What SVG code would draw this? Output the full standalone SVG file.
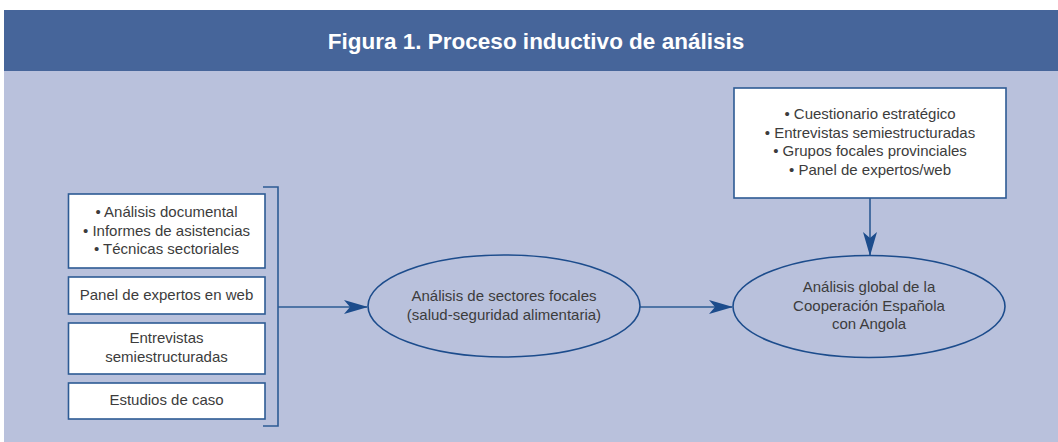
<svg xmlns="http://www.w3.org/2000/svg" width="1058" height="442" viewBox="0 0 1058 442">
<defs>
<style>
.t{font-family:"Liberation Sans",Arial,sans-serif;font-size:15px;fill:#3c3c3c;text-anchor:middle}
.box{fill:#ffffff;stroke:#2d5b94;stroke-width:1.6}
.ell{fill:none;stroke:#1c4c8c;stroke-width:1.6}
.ln{fill:none;stroke:#2d5b94;stroke-width:1.6}
</style>
<marker id="ah" markerWidth="24" markerHeight="14" viewBox="0 0 24 14" refX="23" refY="7" orient="auto" markerUnits="userSpaceOnUse">
<path d="M0,0 L24,7 L0,14 L6,7 Z" fill="#1c4c8c"/>
</marker>
</defs>
<rect x="0" y="0" width="1058" height="442" fill="#ffffff"/>
<rect x="4" y="71" width="1054" height="371" fill="#b9c1dc"/>
<rect x="4" y="10" width="1054" height="61" fill="#46659a"/>
<text x="536" y="49" style="font-family:'Liberation Sans',Arial,sans-serif;font-size:22.5px;font-weight:bold;fill:#ffffff;text-anchor:middle">Figura 1. Proceso inductivo de análisis</text>
<g id="connectors">
<path class="ln" d="M263,187 H278 V426 H263"/>
<path class="ln" d="M278,307 H367" marker-end="url(#ah)"/>
<path class="ln" d="M640,307 H732" marker-end="url(#ah)"/>
<path class="ln" d="M870,198 V255" marker-end="url(#ah)"/>
</g>
<g id="box1">
<rect class="box" x="68.5" y="194" width="196.5" height="74"/>
<text class="t" x="166.5" y="217">• Análisis documental</text>
<text class="t" x="166.5" y="235.5">• Informes de asistencias</text>
<text class="t" x="166.5" y="254">• Técnicas sectoriales</text>
</g>
<g id="box2">
<rect class="box" x="68.5" y="277" width="196.5" height="37"/>
<text class="t" x="166.5" y="300">Panel de expertos en web</text>
</g>
<g id="box3">
<rect class="box" x="68.5" y="323" width="196.5" height="51"/>
<text class="t" x="166.5" y="343">Entrevistas</text>
<text class="t" x="166.5" y="362">semiestructuradas</text>
</g>
<g id="box4">
<rect class="box" x="68.5" y="383" width="196.5" height="36"/>
<text class="t" x="166.5" y="405">Estudios de caso</text>
</g>
<g id="topbox">
<rect class="box" x="734" y="88" width="272" height="110"/>
<text class="t" x="870" y="119">• Cuestionario estratégico</text>
<text class="t" x="870" y="138">• Entrevistas semiestructuradas</text>
<text class="t" x="870" y="156">• Grupos focales provinciales</text>
<text class="t" x="870" y="175">• Panel de expertos/web</text>
</g>
<g id="ellipse1">
<ellipse class="ell" cx="504" cy="306" rx="136" ry="51"/>
<text class="t" x="504" y="301">Análisis de sectores focales</text>
<text class="t" x="504" y="320">(salud-seguridad alimentaria)</text>
</g>
<g id="ellipse2">
<ellipse class="ell" cx="869" cy="306.5" rx="136" ry="51"/>
<text class="t" x="869" y="292">Análisis global de la</text>
<text class="t" x="869" y="311">Cooperación Española</text>
<text class="t" x="869" y="329">con Angola</text>
</g>
</svg>
